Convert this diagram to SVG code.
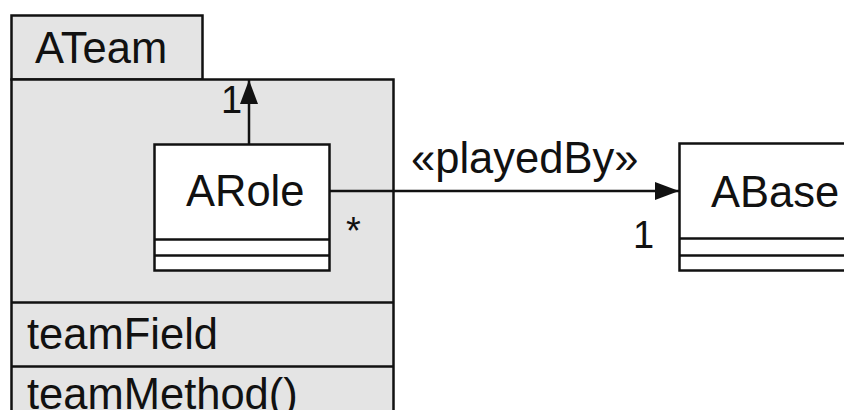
<svg xmlns="http://www.w3.org/2000/svg" width="844" height="410" viewBox="0 0 844 410">
<style>
.box{stroke:#111;stroke-width:2.5}
.gray{fill:#e4e4e4}
.white{fill:#fff}
.t{font-family:"Liberation Sans",Arial,sans-serif;font-size:43.5px;fill:#111}
.m{font-family:"Liberation Sans",Arial,sans-serif;font-size:38px;fill:#111}
.line{stroke:#111;stroke-width:2.5;fill:none}
</style>
<defs>
<marker id="arr" viewBox="0 0 24 18" refX="24" refY="9" markerWidth="24" markerHeight="18" markerUnits="userSpaceOnUse" orient="auto">
<path d="M0,0 L24,9 L0,18 Z" fill="#111"/>
</marker>
</defs>
<rect width="844" height="410" fill="#fff"/>
<g id="ATeam">
<rect class="box gray" x="11.5" y="15.5" width="191" height="64"/>
<text class="t" x="35" y="63">ATeam</text>
<rect class="box gray" x="11.5" y="79.5" width="382" height="345"/>
<line class="line" x1="11.5" y1="302.5" x2="393.5" y2="302.5"/>
<line class="line" x1="11.5" y1="366.5" x2="393.5" y2="366.5"/>
<text class="t" x="27" y="349">teamField</text>
<text class="t" x="27" y="409">teamMethod()</text>
</g>
<g id="ARole">
<rect class="box white" x="154.5" y="144.5" width="175" height="126"/>
<line class="line" x1="154.5" y1="239.5" x2="329.5" y2="239.5"/>
<line class="line" x1="154.5" y1="255.5" x2="329.5" y2="255.5"/>
<text class="t" x="186" y="206">ARole</text>
</g>
<g id="ABase">
<rect class="box white" x="679.5" y="143.5" width="180" height="127"/>
<line class="line" x1="679.5" y1="238.5" x2="860" y2="238.5"/>
<line class="line" x1="679.5" y1="255.5" x2="860" y2="255.5"/>
<text class="t" x="711" y="207">ABase</text>
</g>
<g id="connectors">
<line class="line" x1="249" y1="144" x2="249" y2="80" marker-end="url(#arr)"/>
<text class="m" x="221" y="113">1</text>
<line class="line" x1="330" y1="191" x2="679" y2="191" marker-end="url(#arr)"/>
<text class="t" x="411" y="173">«playedBy»</text>
<text class="m" x="346" y="244">*</text>
<text class="m" x="633" y="248">1</text>
</g>
</svg>
